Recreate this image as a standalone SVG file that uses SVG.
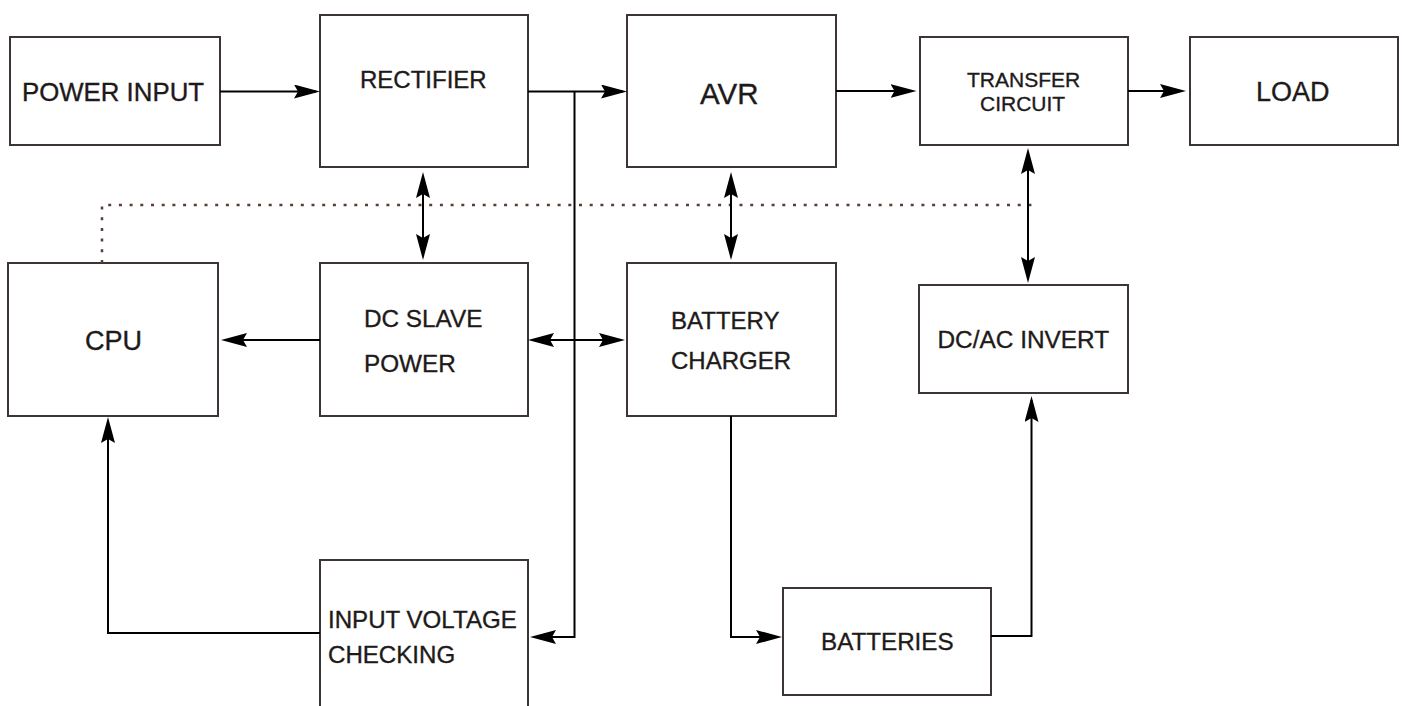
<svg xmlns="http://www.w3.org/2000/svg" width="1402" height="706" viewBox="0 0 1402 706">
<style>
.box{fill:#fff;stroke:#3d3533;stroke-width:2}
.t{font-family:"Liberation Sans",Arial,sans-serif;fill:#1e1a1a;stroke:#1e1a1a;stroke-width:0.35}
.c{fill:none;stroke:#000;stroke-width:2}
.d{fill:none;stroke:#5a3d35;stroke-width:2.5;stroke-dasharray:3 7.7}
</style>
<defs>
<marker id="ah" markerUnits="userSpaceOnUse" markerWidth="28" markerHeight="16" refX="22" refY="7" orient="auto-start-reverse" viewBox="0 0 28 16">
<path d="M0,0 L26,7 L0,14 L4,7 Z" fill="#000"/>
</marker>
</defs>
<rect width="1402" height="706" fill="#fff"/>
<g id="power-input"><rect class="box" x="10" y="37" width="210" height="108"/><text class="t" x="22" y="101" font-size="25.8">POWER INPUT</text></g>
<g id="rectifier"><rect class="box" x="320" y="15" width="208" height="152"/><text class="t" x="360" y="88" font-size="24">RECTIFIER</text></g>
<g id="avr"><rect class="box" x="627" y="15" width="209" height="152"/><text class="t" x="700" y="104" font-size="29.5">AVR</text></g>
<g id="transfer-circuit"><rect class="box" x="920" y="37" width="208" height="108"/><text class="t" x="967" y="87" font-size="21">TRANSFER</text><text class="t" x="980" y="111" font-size="21">CIRCUIT</text></g>
<g id="load"><rect class="box" x="1190" y="37" width="208" height="108"/><text class="t" x="1256" y="101" font-size="27">LOAD</text></g>
<g id="cpu"><rect class="box" x="8" y="263" width="210" height="153"/><text class="t" x="85" y="350" font-size="27">CPU</text></g>
<g id="dc-slave-power"><rect class="box" x="320" y="263" width="208" height="153"/><text class="t" x="364" y="327" font-size="24.3">DC SLAVE</text><text class="t" x="364" y="371.5" font-size="24.3">POWER</text></g>
<g id="battery-charger"><rect class="box" x="627" y="263" width="209" height="153"/><text class="t" x="671" y="329" font-size="24">BATTERY</text><text class="t" x="671" y="369" font-size="24">CHARGER</text></g>
<g id="dc-ac-invert"><rect class="box" x="919" y="285" width="209" height="108"/><text class="t" x="937.5" y="348" font-size="24.4">DC/AC INVERT</text></g>
<g id="input-voltage-checking"><rect class="box" x="320" y="560" width="208" height="160"/><text class="t" x="328" y="628" font-size="24.1">INPUT VOLTAGE</text><text class="t" x="328" y="663" font-size="24.1">CHECKING</text></g>
<g id="batteries"><rect class="box" x="783" y="588" width="208" height="107"/><text class="t" x="821" y="650" font-size="24.2">BATTERIES</text></g>
<g id="connectors">
<path class="d" d="M102,263 V205 H1035"/>
<path class="c" d="M220,91.5 H316" marker-end="url(#ah)"/>
<path class="c" d="M528,91.5 H623" marker-end="url(#ah)"/>
<path class="c" d="M574.5,91.5 V637 H534" marker-end="url(#ah)"/>
<path class="c" d="M423,176 V256" marker-start="url(#ah)" marker-end="url(#ah)"/>
<path class="c" d="M731,176 V256" marker-start="url(#ah)" marker-end="url(#ah)"/>
<path class="c" d="M836,91 H912.5" marker-end="url(#ah)"/>
<path class="c" d="M1128,91 H1182" marker-end="url(#ah)"/>
<path class="c" d="M1028,152 V279" marker-start="url(#ah)" marker-end="url(#ah)"/>
<path class="c" d="M320,340 H225" marker-end="url(#ah)"/>
<path class="c" d="M532,340 H621" marker-start="url(#ah)" marker-end="url(#ah)"/>
<path class="c" d="M320,633 H108 V421" marker-end="url(#ah)"/>
<path class="c" d="M731,416 V637 H778" marker-end="url(#ah)"/>
<path class="c" d="M991,636 H1031.5 V400" marker-end="url(#ah)"/>
</g>
</svg>
